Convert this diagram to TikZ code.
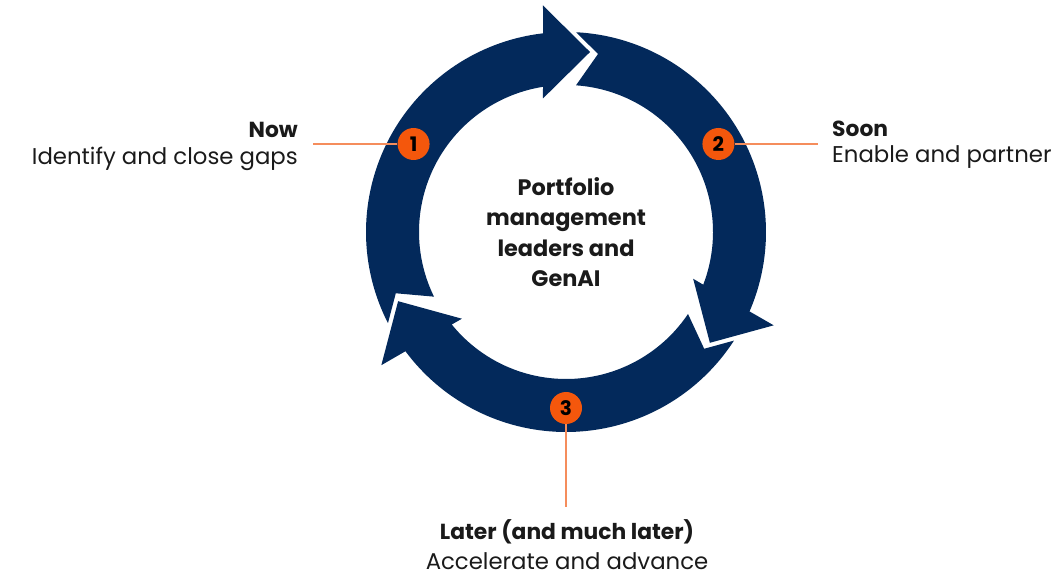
\documentclass[tikz,border=0pt]{standalone}
\usepackage{fontspec}
\setmainfont{Poppins}
\usetikzlibrary{positioning}
\definecolor{Navy}{HTML}{03295B}
\definecolor{Flame}{HTML}{F4570C}
\definecolor{Salmon}{HTML}{F58D5C}
\definecolor{Ink}{HTML}{1A1A1A}

\begin{document}
\begin{tikzpicture}[x=1pt,y=1pt,
    num/.style={circle,fill=Flame,minimum size=32pt,inner sep=0pt,font=\fontsize{20}{20}\selectfont\bfseries,text=black},
    stage/.style={font=\fontsize{21.8}{24}\selectfont\bfseries,text=Ink,inner sep=0pt},
    note/.style={font=\fontsize{22.8}{25}\selectfont,text=Ink,inner sep=0pt},
    lead/.style={Salmon,line width=1.6pt}]
  \useasboundingbox (0,0) rectangle (1056,575);
  \coordinate (ctr) at (566,343);
  % ring: three copies of the right-hand arrow
  \foreach \r in {0,120,240}
    \fill[Navy,shift={(ctr)},rotate=\r]
      (87.1:200) arc[start angle=87.1,end angle=-23.4,radius=200pt]
      -- (-24.2:227.7) -- (-37.6:181.6) -- (-20.2:135.5)
      -- (-21:147) arc[start angle=-21,end angle=86.1,radius=147pt]
      -- (79.8:180.9) -- cycle;
  \node[font=\fontsize{22.4}{30.5}\selectfont\bfseries,align=center,text=Ink] (hub) at (ctr) {Portfolio\\management\\leaders and\\GenAI};
  % leaders and numbers
  \coordinate (e1) at (313,431);
  \coordinate (e2) at (818,431);
  \coordinate (e3) at (566,68);
  \foreach \a/\t in {150/1,30/2,270/3}
    \node[num] (n\t) at ([shift={(\a:176)}]ctr) {\t};
  \foreach \t in {1,2,3}
    \draw[lead] (n\t) -- (e\t);
  % stage labels
  \node[stage,anchor=base east] (now) at (298,437) {Now};
  \node[note,anchor=base east] (nowtxt) at (298,410) {Identify and close gaps};
  \node[stage,anchor=base west] (soon) at (832,438) {Soon};
  \node[note,anchor=base west] (soontxt) at (832,412) {Enable and partner};
  \node[stage,anchor=base] (later) at (567,35) {Later (and much later)};
  \node[note,anchor=base] (latertxt) at (567,6) {Accelerate and advance};
\end{tikzpicture}
\end{document}
